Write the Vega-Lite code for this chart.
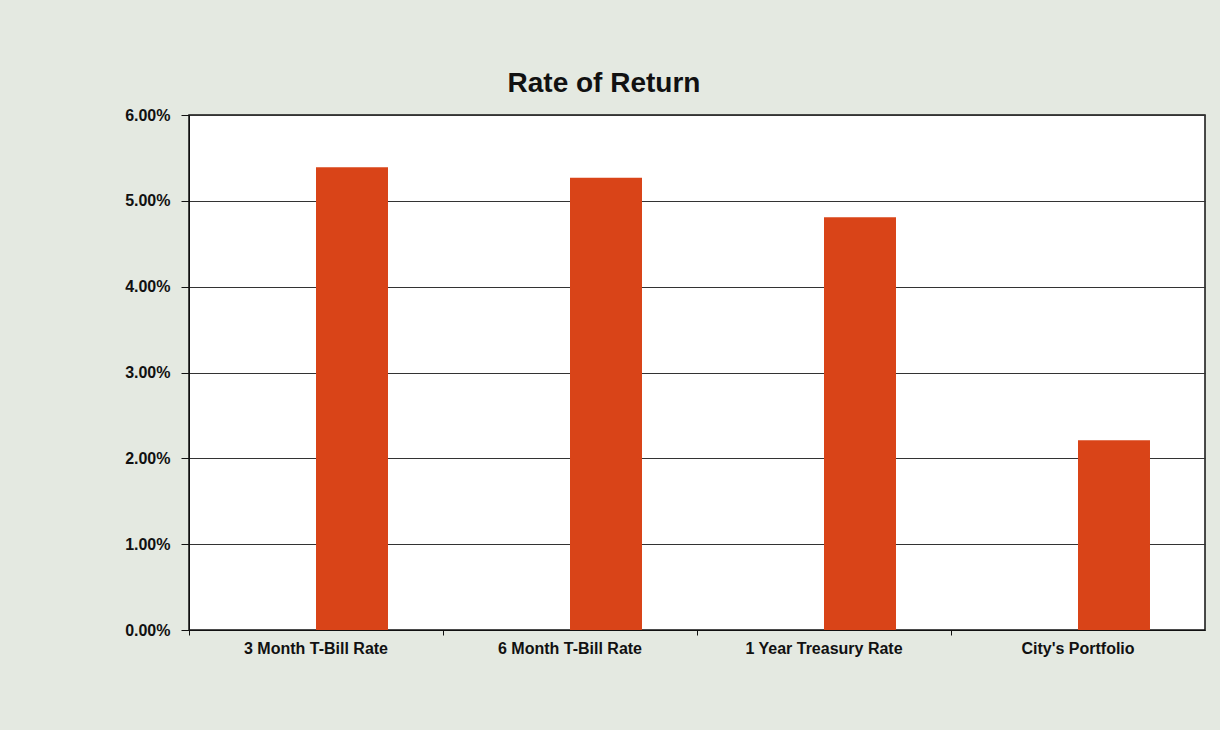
{
  "$schema": "https://vega.github.io/schema/vega-lite/v6.json",
  "autosize": "none",
  "width": 1016,
  "height": 515,
  "padding": {"left": 189, "top": 115, "right": 15, "bottom": 100},
  "background": "#e4e9e1",
  "title": {
    "text": "Rate of Return",
    "font": "Liberation Sans",
    "fontSize": 28,
    "fontWeight": "bold",
    "color": "#111111",
    "anchor": "middle",
    "frame": "group",
    "baseline": "alphabetic",
    "offset": 22,
    "dx": -93,
    "dy": 35
  },
  "config": {
    "view": {"stroke": "#111111", "strokeWidth": 1.5, "fill": "#ffffff"},
    "axis": {
      "labelFont": "Liberation Sans",
      "labelFontWeight": "bold",
      "labelFontSize": 16,
      "labelColor": "#111111",
      "domainColor": "#111111",
      "tickColor": "#111111"
    }
  },
  "data": {
    "values": [
      {"category": "3 Month T-Bill Rate", "series": "Rate", "rate": 0.0539},
      {"category": "6 Month T-Bill Rate", "series": "Rate", "rate": 0.0527},
      {"category": "1 Year Treasury Rate", "series": "Rate", "rate": 0.0481},
      {"category": "City's Portfolio", "series": "Rate", "rate": 0.0221}
    ]
  },
  "mark": {"type": "bar", "color": "#D94418"},
  "encoding": {
    "x": {
      "field": "category",
      "type": "nominal",
      "sort": null,
      "scale": {"paddingInner": 0, "paddingOuter": 0},
      "axis": {
        "title": null,
        "labelAngle": 0,
        "bandPosition": 0,
        "tickSize": 5,
        "labelPadding": 5,
        "grid": false
      }
    },
    "xOffset": {
      "field": "series",
      "type": "nominal",
      "scale": {"domain": ["Blank", "Rate"], "paddingInner": 0, "paddingOuter": 0.764}
    },
    "y": {
      "field": "rate",
      "type": "quantitative",
      "scale": {"domain": [0, 0.06], "nice": false},
      "axis": {
        "title": null,
        "format": ".2%",
        "values": [0, 0.01, 0.02, 0.03, 0.04, 0.05, 0.06],
        "grid": true,
        "gridColor": "#333333",
        "gridWidth": 1,
        "tickSize": 8,
        "labelPadding": 11
      }
    }
  }
}
